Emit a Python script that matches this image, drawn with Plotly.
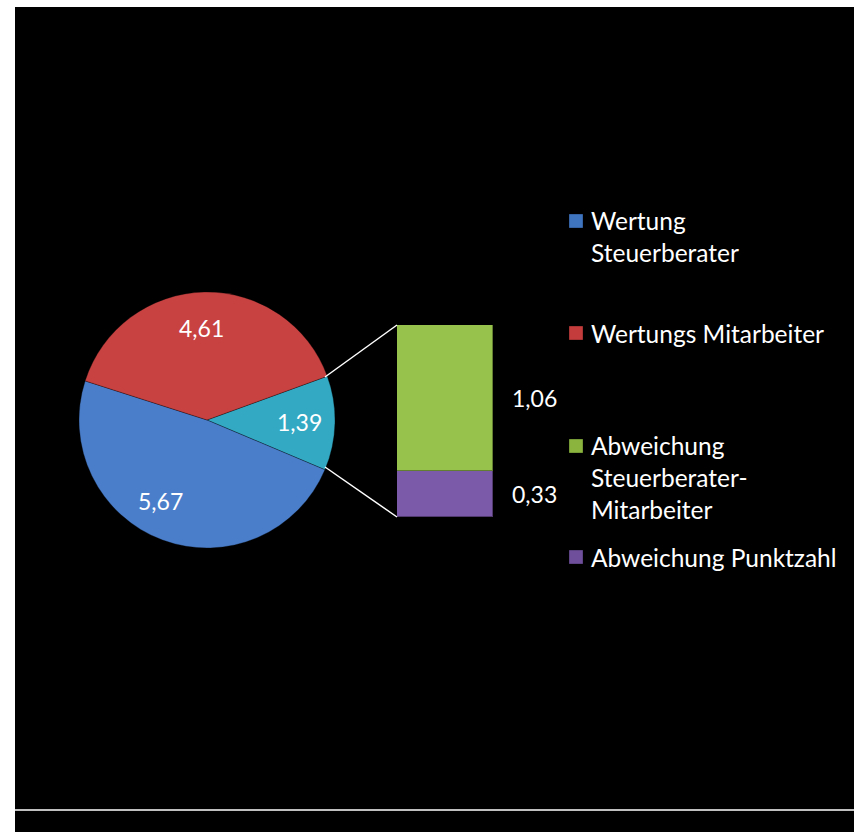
import math
import plotly.graph_objects as go

W, H = 854, 832

# Data
pie_labels = ["Sonstige", "Wertung Steuerberater", "Wertungs Mitarbeiter"]
pie_values = [1.39, 5.67, 4.61]
pie_text = ["1,39", "5,67", "4,61"]
pie_colors = ["#33a9c4", "#4a7ecb", "#c84242"]

bar_labels = ["Abweichung Punktzahl", "Abweichung Steuerberater-Mitarbeiter"]
bar_values = [0.33, 1.06]
bar_text = ["0,33", "1,06"]
bar_colors = ["#7b5aa9", "#97c24c"]

legend_labels = ["Wertung<br>Steuerberater", "Wertungs Mitarbeiter",
                 "Abweichung<br>Steuerberater-<br>Mitarbeiter", "Abweichung Punktzahl"]
legend_colors = ["#3f74bf", "#c43c3c", "#8ab43e", "#6f4f9c"]
legend_ypix = [237, 333, 478, 557]

FONT = "Lato, 'Open Sans', sans-serif"
ROTATION = 70  # degrees clockwise from 12 o'clock where first slice starts

def px(x):
    return x / W

def py(y):
    return 1 - y / H

# pie geometry (pixels)
PCX, PCY, PR = 207, 420, 128

fig = go.Figure()

fig.add_trace(go.Pie(
    labels=pie_labels, values=pie_values,
    textinfo="none", sort=False, direction="clockwise", rotation=ROTATION,
    marker=dict(colors=pie_colors, line=dict(color="rgba(0,0,0,0.3)", width=1)),
    domain=dict(x=[px(PCX - PR), px(PCX + PR)], y=[py(PCY + PR), py(PCY - PR)]),
    showlegend=False, hoverinfo="label+value",
))

for lab, v, c in zip(bar_labels, bar_values, bar_colors):
    fig.add_trace(go.Bar(
        x=[0], y=[v], name=lab,
        marker=dict(color=c, line=dict(color="rgba(0,0,0,0.35)", width=1)),
        width=1, showlegend=False, xaxis="x", yaxis="y",
    ))

annotations = []

# pie labels at slice mid-angles
total = sum(pie_values)
label_r = [0.72, 0.74, 0.72]
label_shift = [(0, 0), (-14, -8), (-4, 0)]
start = ROTATION
for v, t, rf, (sx, sy) in zip(pie_values, pie_text, label_r, label_shift):
    span = v / total * 360
    mid = start + span / 2  # clockwise from 12 o'clock
    ang = math.radians(mid)
    x = PCX + rf * PR * math.sin(ang) + sx
    y = PCY - rf * PR * math.cos(ang) + sy
    annotations.append(dict(x=px(x), y=py(y), xref="paper", yref="paper", text=t,
                            showarrow=False, xanchor="center", yanchor="middle",
                            font=dict(color="white", size=23, family=FONT)))
    start += span

cum = 0
for v, t in zip(bar_values, bar_text):
    annotations.append(dict(x=px(510), y=cum + v / 2, xref="paper", yref="y",
                            text=t, showarrow=False, xanchor="left", yanchor="middle",
                            font=dict(color="white", size=23, family=FONT)))
    cum += v

shapes = [
    dict(type="rect", xref="paper", yref="paper", x0=px(15), x1=px(854), y0=py(832), y1=py(7),
         fillcolor="black", line=dict(width=0), layer="below"),
    dict(type="line", xref="paper", yref="paper", x0=px(15), x1=px(854), y0=py(810), y1=py(810),
         line=dict(color="white", width=1.5)),
    dict(type="line", xref="paper", yref="paper", x0=px(325), y0=py(377), x1=px(397), y1=py(325),
         line=dict(color="white", width=1.5)),
    dict(type="line", xref="paper", yref="paper", x0=px(325), y0=py(467), x1=px(397), y1=py(517),
         line=dict(color="white", width=1.5)),
]

for lab, c, yc in zip(legend_labels, legend_colors, legend_ypix):
    nlines = lab.count("<br>") + 1
    ytop = yc - (nlines - 1) * 32 / 2
    shapes.append(dict(type="rect", xref="paper", yref="paper",
                       x0=px(569), x1=px(583), y0=py(ytop + 7), y1=py(ytop - 7),
                       fillcolor=c, line=dict(color="rgba(0,0,0,0.3)", width=1)))
    annotations.append(dict(x=px(589), y=py(yc), xref="paper", yref="paper", text=lab,
                            showarrow=False, xanchor="left", yanchor="middle", align="left",
                            font=dict(color="white", size=24.5, family=FONT)))

fig.update_layout(
    width=W, height=H, margin=dict(l=0, r=0, t=0, b=0),
    paper_bgcolor="white", plot_bgcolor="rgba(0,0,0,0)",
    barmode="stack", bargap=0,
    xaxis=dict(domain=[px(397), px(493)], range=[-0.5, 0.5], visible=False, fixedrange=True),
    yaxis=dict(domain=[py(517), py(325)], range=[0, sum(bar_values)], visible=False, fixedrange=True),
    shapes=shapes, annotations=annotations, showlegend=False,
)

fig.write_html("out.html", config={"displayModeBar": False},
               post_script="document.body.style.margin='0';document.body.style.overflow='hidden';")
